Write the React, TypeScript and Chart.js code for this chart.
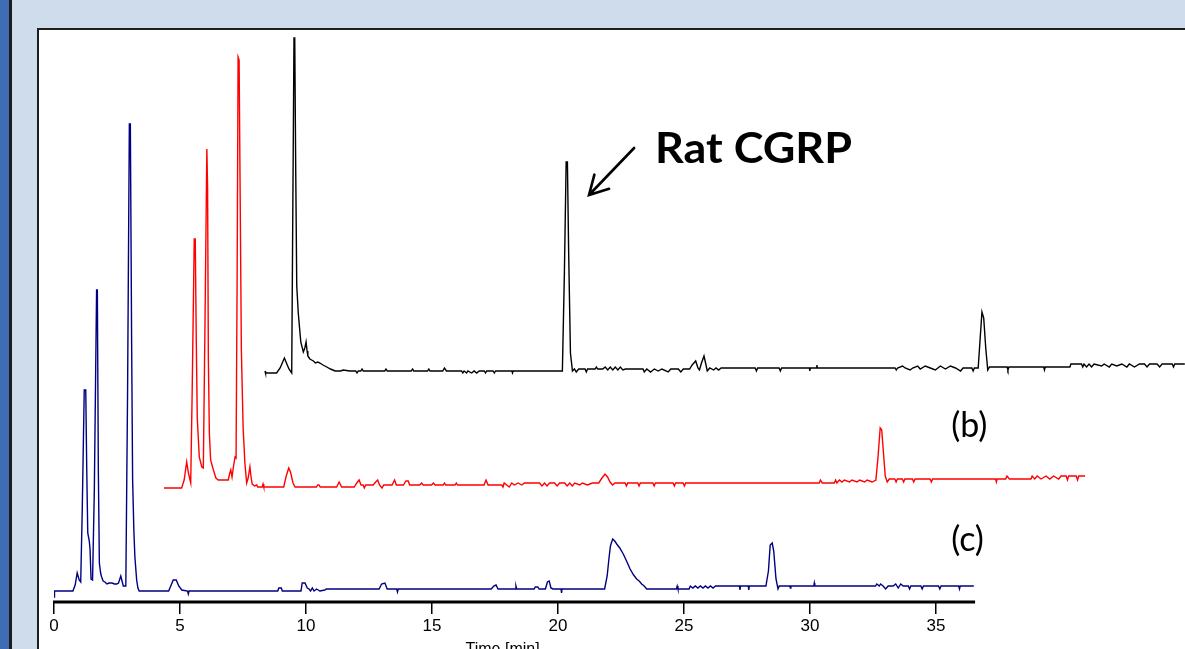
import React, { useEffect, useRef } from "react";
import { Chart, registerables } from "chart.js";

Chart.register(...registerables);

// ---------- axis ----------
const TIME_TICKS = [0, 5, 10, 15, 20, 25, 30, 35];
const AXIS_END = 36.55; // drawn extent of the time axis (min)
const VIEW_MAX = 44.88; // right edge of the plotting panel (min)
const SIGNAL_MIN = -11;
const SIGNAL_MAX = 561;

// ---------- trace (c): blue, [time min, signal] ----------
const TRACE_C: [number, number][] = [
  [0, -6], [0.02, 0], [0.75, 0], [0.84, 6], [0.92, 18], [1.0, 11], [1.06, 9], [1.12, 80],
  [1.2, 201], [1.26, 201], [1.3, 120], [1.34, 58], [1.4, 50], [1.43, 42], [1.47, 12], [1.53, 11],
  [1.6, 100], [1.69, 301], [1.72, 301], [1.76, 120], [1.8, 28], [1.85, 18], [1.89, 14], [1.95, 10],
  [2.02, 9], [2.1, 7], [2.18, 8], [2.3, 8], [2.4, 7], [2.49, 7], [2.56, 8], [2.65, 15], [2.7, 10],
  [2.75, 5], [2.85, 5], [2.92, 200], [2.99, 467], [3.03, 467], [3.08, 250], [3.12, 111], [3.17, 60],
  [3.21, 34], [3.28, 11], [3.33, 3], [3.38, 0], [4.55, 0], [4.65, 6], [4.73, 11], [4.85, 11],
  [4.95, 5], [5.07, 1], [5.3, 0], [5.33, -3], [5.36, 0], [8.88, 0], [8.92, 3], [9.02, 3], [9.06, 0],
  [9.8, 0], [9.85, 8], [9.96, 8], [10.05, 3], [10.12, 2], [10.18, 0], [10.25, 3], [10.32, 0],
  [10.42, 2], [10.55, 0], [10.75, 1], [10.8, 2], [12.9, 2], [13.0, 7], [13.13, 8], [13.22, 2],
  [13.6, 2], [13.63, -1], [13.66, 2], [17.35, 2], [17.45, 5], [17.54, 6], [17.62, 2], [18.3, 2],
  [18.33, 5], [18.36, 2], [19.05, 2], [19.1, 4], [19.2, 4], [19.25, 2], [19.5, 2], [19.58, 9],
  [19.65, 10], [19.72, 3], [19.8, 2], [20.12, 2], [20.14, -2], [20.16, 2], [21.85, 2], [21.95, 15],
  [22.02, 32], [22.08, 45], [22.17, 52], [22.25, 50], [22.33, 47], [22.45, 43], [22.59, 37],
  [22.72, 30], [22.86, 22], [23.0, 16], [23.12, 12], [23.22, 10], [23.32, 7], [23.42, 5], [23.52, 2],
  [24.7, 2], [24.73, 5], [24.76, 2], [25.2, 2], [25.25, 5], [25.35, 3], [25.45, 5], [25.55, 3],
  [25.65, 5], [25.75, 3], [25.85, 5], [25.95, 3], [26.05, 5], [26.15, 3], [26.25, 5], [27.2, 5],
  [27.22, 1], [27.24, 5], [27.55, 5], [27.57, 1], [27.59, 5], [28.25, 5], [28.35, 20], [28.42, 46],
  [28.5, 48], [28.56, 40], [28.65, 12], [28.73, 2], [28.78, 5], [29.2, 5], [29.22, 3], [29.24, 5],
  [30.15, 5], [30.17, 8], [30.19, 5], [32.6, 5], [32.65, 7], [32.75, 5], [32.8, 7], [32.9, 5],
  [33.0, 2], [33.1, 5], [33.3, 5], [33.4, 7], [33.5, 3], [33.6, 7], [33.7, 5], [33.9, 5], [33.95, 2],
  [34.0, 5], [34.4, 5], [34.45, 2], [34.5, 5], [35.1, 5], [35.15, 2], [35.2, 5], [35.9, 5],
  [35.93, 2], [35.96, 5], [36.5, 5],
];

// ---------- trace (b): red ----------
const B_SHIFT_TIME = 4.365;
const B_SHIFT_SIGNAL = 103;
const TRACE_B: [number, number][] = [
  [0, 0], [0.7, 0], [0.8, 8], [0.9, 26], [0.97, 15], [1.06, 5], [1.12, 100], [1.2, 249], [1.24, 249],
  [1.28, 150], [1.32, 70], [1.4, 31], [1.5, 21], [1.56, 20], [1.62, 150], [1.7, 339], [1.73, 300],
  [1.76, 130], [1.8, 55], [1.85, 28], [1.96, 18], [2.06, 10], [2.15, 8], [2.55, 8], [2.6, 14],
  [2.65, 18], [2.7, 11], [2.76, 22], [2.82, 31], [2.86, 30], [2.9, 200], [2.94, 431], [2.98, 428],
  [3.02, 300], [3.07, 138], [3.14, 60], [3.21, 25], [3.28, 5], [3.34, 10], [3.41, 21], [3.46, 10],
  [3.5, 4], [3.6, 2], [3.68, 3], [3.72, 1], [3.9, 1], [3.93, 4], [3.96, 1], [4.75, 1], [4.85, 12],
  [4.95, 20], [5.02, 16], [5.12, 5], [5.2, 1], [6.05, 1], [6.1, 3], [6.15, 3], [6.2, 1], [6.85, 1],
  [6.95, 6], [7.05, 1], [7.55, 1], [7.65, 5], [7.74, 8], [7.82, 3], [7.9, 3], [7.95, 0], [8.0, 3],
  [8.3, 3], [8.4, 6], [8.48, 8], [8.55, 3], [8.65, 0], [8.72, 3], [9.05, 3], [9.15, 8], [9.22, 3],
  [9.5, 3], [9.6, 7], [9.69, 7], [9.75, 3], [10.15, 3], [10.22, 5], [10.29, 3], [10.62, 3],
  [10.69, 5], [10.76, 3], [11.08, 3], [11.13, 5], [11.18, 3], [11.55, 3], [11.6, 5], [11.65, 3],
  [12.7, 3], [12.78, 8], [12.86, 3], [13.4, 3], [13.45, 1], [13.5, 5], [13.6, 3], [13.7, 1],
  [13.8, 5], [13.9, 3], [14.05, 5], [14.2, 3], [14.3, 5], [14.9, 5], [15.0, 2], [15.1, 5], [15.2, 2],
  [15.3, 5], [15.5, 5], [15.6, 2], [15.7, 5], [15.9, 5], [16.0, 2], [16.1, 5], [16.2, 2], [16.3, 5],
  [16.5, 3], [16.6, 5], [16.8, 3], [17.0, 5], [17.25, 5], [17.38, 10], [17.5, 14], [17.6, 11],
  [17.7, 6], [17.8, 3], [17.9, 5], [18.3, 5], [18.35, 2], [18.4, 5], [18.8, 5], [18.85, 2],
  [18.9, 5], [19.4, 5], [19.45, 2], [19.5, 5], [20.2, 5], [20.25, 2], [20.3, 5], [20.6, 5],
  [20.65, 2], [20.7, 5], [26.0, 5], [26.05, 8], [26.12, 5], [26.6, 5], [26.65, 8], [26.7, 5],
  [26.8, 8], [26.9, 6], [27.0, 8], [27.2, 6], [27.3, 8], [27.5, 6], [27.6, 8], [27.8, 6], [27.9, 8],
  [28.1, 6], [28.25, 8], [28.33, 30], [28.42, 60], [28.48, 58], [28.55, 35], [28.62, 12], [28.7, 6],
  [28.78, 9], [29.0, 9], [29.05, 6], [29.1, 9], [29.3, 9], [29.35, 6], [29.4, 9], [29.7, 9],
  [29.75, 6], [29.8, 9], [30.4, 9], [30.45, 6], [30.5, 9], [33.0, 9], [33.03, 6], [33.06, 9],
  [33.4, 9], [33.45, 12], [33.55, 9], [34.4, 9], [34.45, 12], [34.55, 9], [34.65, 12], [34.8, 9],
  [35.0, 12], [35.15, 9], [35.3, 12], [35.5, 9], [35.6, 12], [35.8, 12], [35.85, 8], [35.9, 12],
  [36.2, 12], [36.25, 8], [36.3, 12], [36.55, 12],
];

// ---------- trace (a): black ----------
const A_SHIFT_TIME = 8.373;
const A_SHIFT_SIGNAL = 218;
const TRACE_A: [number, number][] = [
  [0, 2], [0.02, 0], [0.46, 0], [0.6, 5], [0.77, 15], [0.85, 10], [0.95, 4], [1.06, 0], [1.1, 150],
  [1.15, 335], [1.18, 335], [1.22, 200], [1.26, 87], [1.32, 60], [1.42, 31], [1.52, 21], [1.58, 25],
  [1.63, 31], [1.67, 22], [1.7, 17], [1.78, 14], [1.85, 13], [1.92, 12], [2.0, 10], [2.1, 11],
  [2.18, 10], [2.3, 8], [2.45, 6], [2.6, 4], [2.78, 2], [3.0, 2], [3.1, 3], [3.37, 2], [3.6, 2],
  [3.65, 0], [3.7, 2], [3.8, 2], [3.85, 4], [3.9, 2], [4.75, 2], [4.8, 4], [4.85, 2], [5.8, 2],
  [5.86, 4], [5.9, 2], [6.45, 2], [6.5, 4], [6.55, 2], [7.05, 2], [7.12, 5], [7.2, 2], [7.8, 2],
  [7.85, 0], [7.9, 2], [8.0, 0], [8.05, 2], [8.2, 0], [8.3, 2], [8.4, 0], [8.5, 2], [8.7, 2],
  [8.75, 0], [8.8, 2], [9.05, 2], [9.1, 0], [9.15, 2], [9.8, 2], [9.82, 0], [9.85, 2], [11.8, 2],
  [11.88, 100], [11.95, 211], [12.0, 211], [12.05, 120], [12.12, 20], [12.2, 2], [12.28, 4],
  [12.35, 1], [12.45, 4], [12.7, 4], [12.75, 1], [12.8, 4], [13.1, 4], [13.15, 6], [13.2, 4],
  [13.4, 4], [13.5, 6], [13.6, 3], [13.7, 6], [13.8, 3], [13.9, 6], [14.0, 3], [14.1, 6], [14.2, 3],
  [14.3, 4], [15.0, 4], [15.05, 1], [15.15, 4], [15.3, 1], [15.45, 4], [15.6, 2], [15.75, 4],
  [16.0, 1], [16.1, 4], [16.4, 4], [16.5, 1], [16.6, 4], [16.85, 4], [16.95, 8], [17.09, 12],
  [17.18, 5], [17.24, 3], [17.32, 10], [17.42, 17], [17.5, 8], [17.55, 2], [17.65, 5], [17.8, 3],
  [17.9, 5], [18.0, 3], [18.1, 5], [19.45, 5], [19.5, 2], [19.55, 5], [20.4, 5], [20.45, 2],
  [20.5, 5], [21.6, 5], [21.62, 2], [21.64, 5], [21.88, 5], [21.9, 8], [21.92, 5], [25.0, 5],
  [25.05, 3], [25.1, 5], [25.3, 7], [25.4, 5], [25.6, 3], [25.7, 5], [25.9, 7], [26.0, 4], [26.2, 7],
  [26.4, 5], [26.6, 3], [26.8, 7], [27.0, 4], [27.2, 7], [27.4, 5], [27.6, 2], [27.7, 5], [28.05, 5],
  [28.1, 2], [28.15, 5], [28.3, 5], [28.38, 35], [28.45, 61], [28.52, 55], [28.6, 25], [28.68, 3],
  [28.75, 6], [29.45, 6], [29.48, 3], [29.52, 6], [30.9, 6], [30.93, 3], [30.96, 6], [31.94, 6],
  [31.98, 9], [32.4, 9], [32.45, 6], [32.5, 9], [32.6, 6], [32.7, 9], [32.8, 6], [32.9, 9], [33.2, 7],
  [33.3, 9], [33.5, 6], [33.6, 9], [33.8, 7], [34.0, 9], [34.2, 6], [34.3, 9], [34.5, 6], [34.7, 9],
  [34.9, 9], [35.0, 6], [35.1, 9], [35.4, 9], [35.5, 6], [35.6, 9], [36.0, 9], [36.05, 6], [36.1, 9],
  [36.5, 9],
];

// ---------- texts ----------
const LABEL_PEPTIDE = "Rat CGRP";
const LABEL_B = "(b)";
const LABEL_C = "(c)";
const AXIS_TITLE = "Time [min]";

const W = 1185;
const H = 649;

function toPoints(trace: [number, number][], dt: number, ds: number) {
  return trace.map(([t, s]) => ({ x: t + dt, y: s + ds }));
}

const framePlugin = {
  id: "frame",
  beforeDraw(chart: any) {
    const ctx = chart.ctx;
    ctx.save();
    ctx.fillStyle = "#cfdcec";
    ctx.fillRect(0, 0, W, H);
    ctx.fillStyle = "#3f6db3";
    ctx.fillRect(0, 0, 9, H);
    ctx.fillStyle = "#1c1c1c";
    ctx.fillRect(9, 0, 3, H);
    ctx.fillStyle = "#ffffff";
    ctx.fillRect(37, 28, W - 37, H - 28);
    ctx.fillStyle = "#1e1e1e";
    ctx.fillRect(37, 28, 2, H - 28);
    ctx.fillRect(37, 28, W - 37, 2);
    ctx.restore();
  },
  afterDraw(chart: any) {
    const ctx = chart.ctx;
    const xs = chart.scales.x;
    const ys = chart.scales.y;
    const px = (t: number) => xs.getPixelForValue(t);
    const py = (v: number) => ys.getPixelForValue(v);
    ctx.save();
    // time axis line
    ctx.strokeStyle = "#000";
    ctx.lineWidth = 2.8;
    ctx.beginPath();
    ctx.moveTo(px(0) - 1, chart.chartArea.bottom);
    ctx.lineTo(px(AXIS_END), chart.chartArea.bottom);
    ctx.stroke();

    // axis title (partly below the page edge)
    ctx.fillStyle = "#000";
    ctx.font = "16px 'Liberation Sans', Arial, sans-serif";
    ctx.textAlign = "center";
    ctx.textBaseline = "alphabetic";
    ctx.fillText(AXIS_TITLE, px(17.8), chart.chartArea.bottom + 52);

    // arrow to the CGRP peak
    const hx = px(21.23), hy = py(396);
    const tx = px(23.02), ty = py(443);
    ctx.lineWidth = 2.6;
    ctx.lineCap = "round";
    ctx.beginPath();
    ctx.moveTo(tx, ty);
    ctx.lineTo(hx, hy);
    const ang = Math.atan2(ty - hy, tx - hx);
    const wing = 21;
    const spread = (29 * Math.PI) / 180;
    ctx.moveTo(hx + wing * Math.cos(ang - spread), hy + wing * Math.sin(ang - spread));
    ctx.lineTo(hx, hy);
    ctx.lineTo(hx + wing * Math.cos(ang + spread), hy + wing * Math.sin(ang + spread));
    ctx.stroke();

    // peptide label
    ctx.textAlign = "left";
    ctx.font = "bold 42px Lato, 'Open Sans', sans-serif";
    const target = 197;
    const mw = ctx.measureText(LABEL_PEPTIDE).width;
    const sx = target / mw;
    ctx.save();
    ctx.translate(px(23.85), py(428));
    ctx.scale(sx, 1);
    ctx.fillText(LABEL_PEPTIDE, 0, 0);
    ctx.restore();

    // trace labels
    ctx.font = "34px Lato, 'Open Sans', sans-serif";
    ctx.fillText(LABEL_B, px(35.6), py(154));
    ctx.fillText(LABEL_C, px(35.6), py(40));
    ctx.restore();
  },
};

export default function App() {
  const ref = useRef<HTMLCanvasElement | null>(null);

  useEffect(() => {
    const canvas = ref.current;
    if (!canvas) return;
    const chart = new Chart(canvas, {
      type: "line",
      data: {
        datasets: [
          {
            label: "(a)",
            data: toPoints(TRACE_A, A_SHIFT_TIME, A_SHIFT_SIGNAL),
            borderColor: "#000000",
            borderWidth: 1.4,
            pointRadius: 0,
            tension: 0,
            fill: false,
          },
          {
            label: "(b)",
            data: toPoints(TRACE_B, B_SHIFT_TIME, B_SHIFT_SIGNAL),
            borderColor: "#ff0000",
            borderWidth: 1.4,
            pointRadius: 0,
            tension: 0,
            fill: false,
          },
          {
            label: "(c)",
            data: toPoints(TRACE_C, 0, 0),
            borderColor: "#000080",
            borderWidth: 1.4,
            pointRadius: 0,
            tension: 0,
            fill: false,
          },
        ],
      },
      options: {
        responsive: false,
        animation: false,
        devicePixelRatio: 1,
        layout: { padding: { left: 54, right: 0, top: 30, bottom: 10.6 } },
        plugins: { legend: { display: false }, tooltip: { enabled: false } },
        scales: {
          x: {
            type: "linear",
            min: 0,
            max: VIEW_MAX,
            afterBuildTicks: (axis: any) => {
              axis.ticks = TIME_TICKS.map((v) => ({ value: v }));
            },
            ticks: {
              color: "#000",
              padding: 2,
              maxRotation: 0,
              font: { family: "'Liberation Sans', Arial, sans-serif", size: 17 },
              callback: (v: any) => String(v),
            },
            grid: {
              display: true,
              drawOnChartArea: false,
              drawTicks: true,
              tickLength: 12,
              color: "#000",
              lineWidth: 1.5,
            },
            border: { display: false },
          },
          y: {
            type: "linear",
            display: false,
            min: SIGNAL_MIN,
            max: SIGNAL_MAX,
          },
        },
      },
      plugins: [framePlugin],
    });
    return () => chart.destroy();
  }, []);

  return (
    <div style={{ position: "fixed", left: 0, top: 0, width: W, height: H, overflow: "hidden" }}>
      <canvas ref={ref} width={W} height={H} style={{ width: W, height: H, display: "block" }} />
    </div>
  );
}
